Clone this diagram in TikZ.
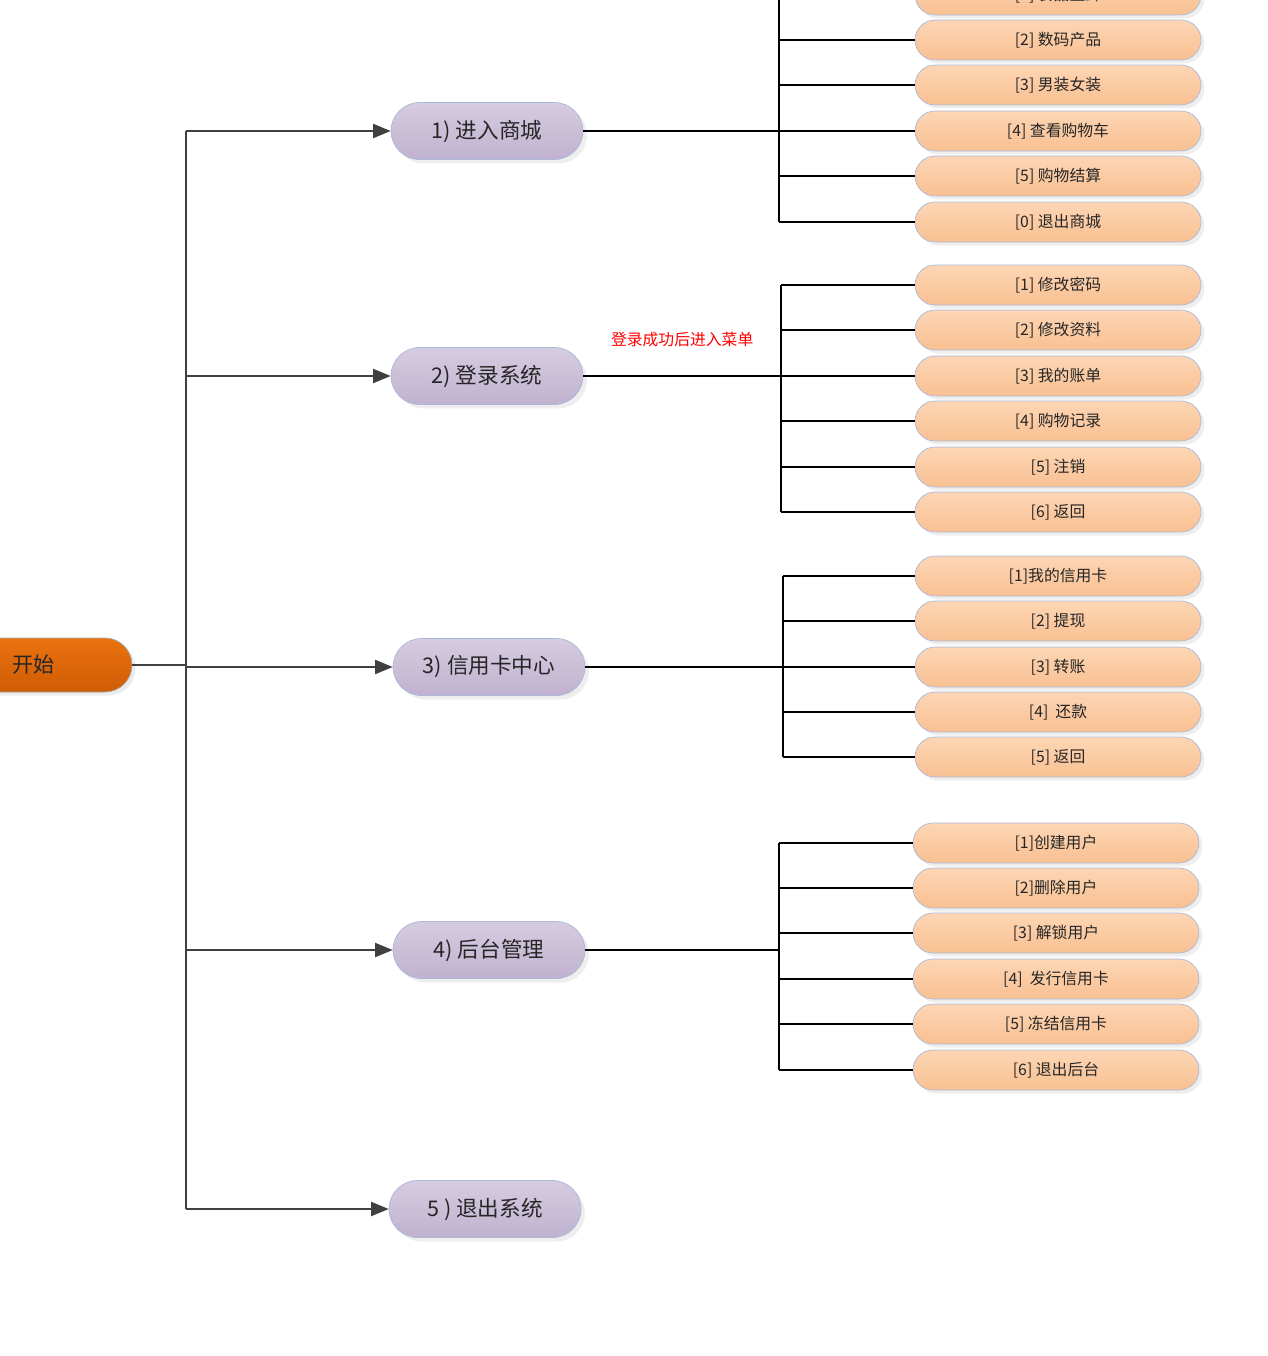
\documentclass[tikz,border=0pt]{standalone}
\usepackage{fontspec}
\setmainfont{Noto Sans CJK SC}
\usepackage{xcolor}
\usetikzlibrary{arrows.meta,shadows}

\definecolor{startTop}{HTML}{EA730F}
\definecolor{startBot}{HTML}{CF5C05}
\definecolor{menuTop}{HTML}{D6CCE0}
\definecolor{menuBot}{HTML}{C0B2D0}
\definecolor{itemTop}{HTML}{FDD6B5}
\definecolor{itemBot}{HTML}{F9C092}
\definecolor{rim}{HTML}{A9B9DA}
\definecolor{trunk}{HTML}{404040}

\begin{document}
\begin{tikzpicture}[x=0.02cm, y=-0.02cm,
    startbox/.style={rectangle, rounded corners=0.54cm, minimum width=3.92cm, minimum height=1.08cm,
        draw=gray!70, top color=startTop, bottom color=startBot, text=black!85,
        drop shadow={shadow xshift=0.07cm, shadow yshift=-0.07cm, fill=black!15},
        font=\fontsize{12}{14}\selectfont},
    menu/.style={rectangle, rounded corners=0.57cm, minimum width=3.84cm, minimum height=1.14cm,
        draw=rim, top color=menuTop, bottom color=menuBot, text=black!85,
        drop shadow={shadow xshift=0.08cm, shadow yshift=-0.08cm, fill=black!13},
        font=\fontsize{12.3}{14}\selectfont},
    item/.style={rectangle, rounded corners=0.4cm, minimum width=5.72cm, minimum height=0.8cm,
        draw=rim, top color=itemTop, bottom color=itemBot, text=black!85,
        drop shadow={shadow xshift=0.07cm, shadow yshift=-0.07cm, fill=black!13},
        font=\fontsize{9}{11}\selectfont},
    feed/.style={draw=trunk, line width=1.1pt, -{Triangle[length=10pt, width=8pt]}},
    wire/.style={draw=black, line width=0.75pt},
    mainwire/.style={draw=black, line width=1pt}]
    \useasboundingbox (0,0) rectangle (1268,1356);

    % Start
    \node[startbox] (start) at (34,665) {开始};

    % Main menu
    \node[menu] (shop) at (487,131) {1) 进入商城};
    \node[menu] (login) at (487,376) {2) 登录系统};
    \node[menu] (card) at (489,667) {3) 信用卡中心};
    \node[menu] (admin) at (489,950) {4) 后台管理};
    \node[menu] (quit) at (485,1209) {5 ) 退出系统};

    % Shop submenu
    \node[item] (shop1) at (1058,-5) {[1] 食品生鲜};
    \node[item] (shop2) at (1058,40) {[2] 数码产品};
    \node[item] (shop3) at (1058,85) {[3] 男装女装};
    \node[item] (shop4) at (1058,131) {[4] 查看购物车};
    \node[item] (shop5) at (1058,176) {[5] 购物结算};
    \node[item] (shop0) at (1058,222) {[0] 退出商城};

    % Login submenu
    \node[item] (login1) at (1058,285) {[1] 修改密码};
    \node[item] (login2) at (1058,330) {[2] 修改资料};
    \node[item] (login3) at (1058,376) {[3] 我的账单};
    \node[item] (login4) at (1058,421) {[4] 购物记录};
    \node[item] (login5) at (1058,467) {[5] 注销};
    \node[item] (login6) at (1058,512) {[6] 返回};

    % Credit card submenu
    \node[item] (card1) at (1058,576) {[1]我的信用卡};
    \node[item] (card2) at (1058,621) {[2] 提现};
    \node[item] (card3) at (1058,667) {[3] 转账};
    \node[item] (card4) at (1058,712) {[4]\ \ 还款};
    \node[item] (card5) at (1058,757) {[5] 返回};

    % Admin submenu
    \node[item] (admin1) at (1056,843) {[1]创建用户};
    \node[item] (admin2) at (1056,888) {[2]删除用户};
    \node[item] (admin3) at (1056,933) {[3] 解锁用户};
    \node[item] (admin4) at (1056,979) {[4]\ \ 发行信用卡};
    \node[item] (admin5) at (1056,1024) {[5] 冻结信用卡};
    \node[item] (admin6) at (1056,1070) {[6] 退出后台};

    % Trunk and arrows
    \coordinate (split) at (186,665);
    \draw[draw=trunk, line width=1.1pt] (start.east) -- (split);
    \draw[draw=trunk, line width=1.1pt] (split |- shop) -- (split |- quit);
    \draw[feed] (split |- shop) -- (shop.west);
    \draw[feed] (split |- login) -- (login.west);
    \draw[feed] (split |- card) -- (card.west);
    \draw[feed] (split |- admin) -- (admin.west);
    \draw[feed] (split |- quit) -- (quit.west);

    % Buses
    \coordinate (shopbus) at (779,131);
    \coordinate (loginbus) at (781,376);
    \coordinate (cardbus) at (783,667);
    \coordinate (adminbus) at (779,950);
    \draw[mainwire] (shop.east) -- (shopbus);
    \draw[mainwire] (login.east) -- (loginbus)
        node[pos=0.5, above=12.5pt, text=red, font=\fontsize{9}{11}\selectfont] (loginnote) {登录成功后进入菜单};
    \draw[mainwire] (card.east) -- (cardbus);
    \draw[mainwire] (admin.east) -- (adminbus);
    \draw[wire] (shopbus |- shop1) -- (shopbus |- shop0);
    \draw[wire] (loginbus |- login1) -- (loginbus |- login6);
    \draw[wire] (cardbus |- card1) -- (cardbus |- card5);
    \draw[wire] (adminbus |- admin1) -- (adminbus |- admin6);

    % Branches
    \draw[wire] (shopbus |- shop1) -- (shop1.west);
    \draw[wire] (shopbus |- shop2) -- (shop2.west);
    \draw[wire] (shopbus |- shop3) -- (shop3.west);
    \draw[wire] (shopbus |- shop4) -- (shop4.west);
    \draw[wire] (shopbus |- shop5) -- (shop5.west);
    \draw[wire] (shopbus |- shop0) -- (shop0.west);
    \draw[wire] (loginbus |- login1) -- (login1.west);
    \draw[wire] (loginbus |- login2) -- (login2.west);
    \draw[wire] (loginbus |- login3) -- (login3.west);
    \draw[wire] (loginbus |- login4) -- (login4.west);
    \draw[wire] (loginbus |- login5) -- (login5.west);
    \draw[wire] (loginbus |- login6) -- (login6.west);
    \draw[wire] (cardbus |- card1) -- (card1.west);
    \draw[wire] (cardbus |- card2) -- (card2.west);
    \draw[wire] (cardbus |- card3) -- (card3.west);
    \draw[wire] (cardbus |- card4) -- (card4.west);
    \draw[wire] (cardbus |- card5) -- (card5.west);
    \draw[wire] (adminbus |- admin1) -- (admin1.west);
    \draw[wire] (adminbus |- admin2) -- (admin2.west);
    \draw[wire] (adminbus |- admin3) -- (admin3.west);
    \draw[wire] (adminbus |- admin4) -- (admin4.west);
    \draw[wire] (adminbus |- admin5) -- (admin5.west);
    \draw[wire] (adminbus |- admin6) -- (admin6.west);
\end{tikzpicture}
\end{document}
